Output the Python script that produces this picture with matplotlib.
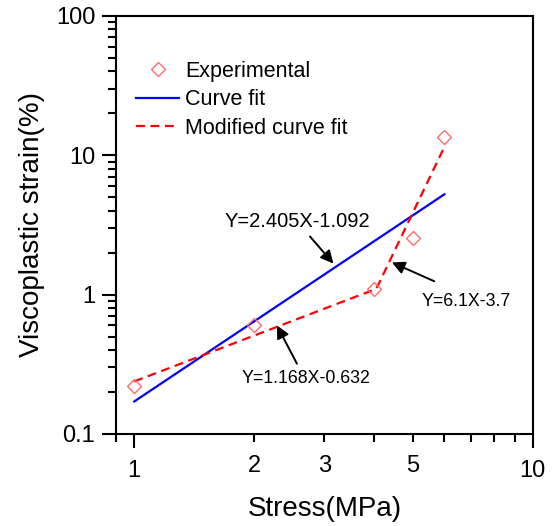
import numpy as np
import matplotlib
matplotlib.use("Agg")
import matplotlib.pyplot as plt
from matplotlib.ticker import FixedLocator, FixedFormatter, NullFormatter

plt.rcParams['font.family'] = ['Liberation Sans', 'DejaVu Sans']

# --- data ---
stress_exp = [1, 2, 4, 5, 6]
strain_exp = [0.219, 0.60, 1.09, 2.56, 13.6]

# single power-law fit (end points of the drawn line)
stress_fit = [1, 6]
strain_fit = [0.171, 5.24]

# two-segment (modified) fit
stress_mod = [1, 4.05, 5.95]
strain_mod = [0.238, 1.10, 10.9]

x_major = [1, 10]
x_major_labels = ['1', '10']
x_minor = [0.9, 2, 3, 4, 5, 6, 7, 8, 9]
x_minor_labels = ['', '2', '3', '', '5', '', '', '', '']
y_major = [0.1, 1, 10, 100]
y_major_labels = ['0.1', '1', '10', '100']

# annotations: text, text position, arrow tail, arrow head, font size
notes = [
    ("Y=2.405X-1.092", (2.57, 3.35), (2.76, 2.61), (3.16, 1.67), 14.5),
    ("Y=6.1X-3.7", (6.79, 0.895), (5.66, 1.246), (4.43, 1.70), 12.8),
    ("Y=1.168X-0.632", (2.70, 0.249), (2.56, 0.319), (2.28, 0.601), 12.8),
]

fig = plt.figure(figsize=(5.55, 5.26), dpi=100)
ax = fig.add_axes([0.209, 0.175, 0.751, 0.795])
ax.set_xscale('log')
ax.set_yscale('log')

ax.plot(stress_exp, strain_exp, linestyle='none', marker='D', markersize=7.2,
        markerfacecolor='none', markeredgecolor='#ff6b6b', markeredgewidth=1.0,
        label='Experimental', zorder=3)
ax.plot(stress_fit, strain_fit, color='#0000ff', lw=1.6, label='Curve fit')
ax.plot(stress_mod, strain_mod, color='#ff0000', lw=1.6, dashes=(4, 2.5),
        label='Modified curve fit')

for txt, tpos, tail, head, fs in notes:
    ax.text(tpos[0], tpos[1], txt, ha='center', va='center', fontsize=fs)
    ax.annotate('', xy=head, xytext=tail,
                arrowprops=dict(arrowstyle='-|>', color='black', lw=1.4,
                                mutation_scale=19, shrinkA=0, shrinkB=0))

ax.set_xlim(0.9, 10)
ax.set_ylim(0.1, 100)

ax.xaxis.set_major_locator(FixedLocator(x_major))
ax.xaxis.set_major_formatter(FixedFormatter(x_major_labels))
ax.xaxis.set_minor_locator(FixedLocator(x_minor))
ax.xaxis.set_minor_formatter(FixedFormatter(x_minor_labels))
ax.yaxis.set_major_locator(FixedLocator(y_major))
ax.yaxis.set_major_formatter(FixedFormatter(y_major_labels))
ax.yaxis.set_minor_locator(FixedLocator(
    [m * 10.0 ** e for e in (-1, 0, 1) for m in range(2, 10)]))
ax.yaxis.set_minor_formatter(NullFormatter())

ax.tick_params(which='both', direction='out', top=False, right=False,
               width=1.5, labelsize=17)
ax.tick_params(which='major', length=10)
ax.tick_params(which='minor', length=5.8)
ax.tick_params(axis='x', which='both', pad=9)
ax.tick_params(axis='y', which='both', pad=5)

for sp in ax.spines.values():
    sp.set_linewidth(1.5)

ax.set_xlabel('Stress(MPa)', fontsize=20, labelpad=10)
ax.set_ylabel('Viscoplastic strain(%)', fontsize=20, labelpad=8)

ax.legend(loc='upper left', bbox_to_anchor=(0.049, 0.893), frameon=False,
          fontsize=15.5, handlelength=2.0, handletextpad=0.25,
          labelspacing=0.36, borderpad=0, borderaxespad=0, numpoints=1)

fig.savefig('out.png', dpi=100)
